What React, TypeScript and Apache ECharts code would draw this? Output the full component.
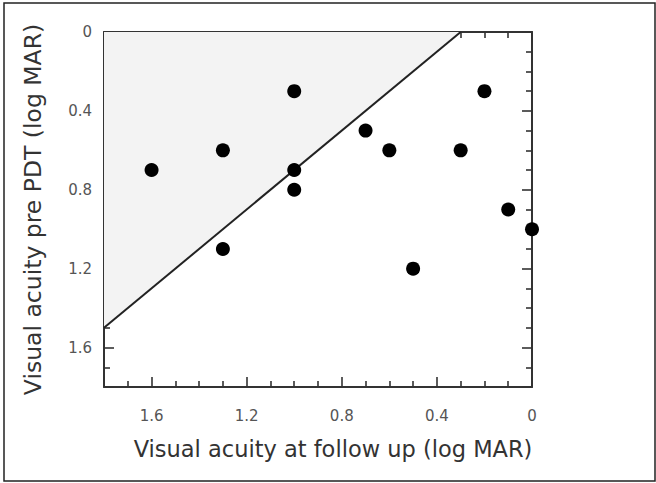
import React, { useEffect, useRef } from "react";
import * as echarts from "echarts";

// Data
const followUp = [1.6, 1.3, 1.3, 1.0, 1.0, 1.0, 0.7, 0.6, 0.5, 0.3, 0.2, 0.1, 0.0];
const prePDT = [0.7, 0.6, 1.1, 0.3, 0.7, 0.8, 0.5, 0.6, 1.2, 0.6, 0.3, 0.9, 1.0];
const diagX = [1.8, 0.3];
const diagY = [1.5, 0];
const shadeX = [1.8, 0.3, 1.8];
const shadeY = [0, 0, 1.5];
const axisMin = 0;
const axisMax = 1.8;
const majorStep = 0.4;
const xTitle = "Visual acuity at follow up (log MAR)";
const yTitle = "Visual acuity pre PDT (log MAR)";

const FONT = "DejaVu Sans";

export default function App() {
  const ref = useRef<HTMLDivElement>(null);
  useEffect(() => {
    if (!ref.current) return;
    const chart = echarts.init(ref.current, null, { renderer: "svg" });

    const fmt = (v: number) => {
      const r = Math.round(v * 10) / 10;
      if (Math.abs(r / majorStep - Math.round(r / majorStep)) > 1e-6) return "";
      return r === 0 ? "0" : String(r);
    };

    const axisCommon = (show: boolean) => ({
      type: "value" as const,
      min: axisMin,
      max: axisMax,
      interval: majorStep,
      inverse: true,
      axisLine: { show: true, onZero: false, lineStyle: { color: "#333", width: 2 } },
      axisTick: { show: true, inside: true, length: 10, lineStyle: { color: "#333", width: 1.6 } },
      minorTick: { show: true, splitNumber: 4, length: 6, lineStyle: { color: "#333", width: 1.6 } },
      splitLine: { show: false },
      axisLabel: {
        show,
        showMaxLabel: false,
        formatter: fmt,
        fontFamily: FONT,
        fontSize: 15,
        color: "#555",
      },
    });

    const shadeData = shadeX.map((x, i) => [x, shadeY[i]]);
    const diagData = diagX.map((x, i) => [x, diagY[i]]);
    const pts = followUp.map((x, i) => [x, prePDT[i]]);

    chart.setOption({
      animation: false,
      backgroundColor: "#fff",
      grid: { left: 104, top: 32, right: 124, bottom: 96, containLabel: false },
      xAxis: [
        {
          ...axisCommon(true),
          position: "bottom",
          axisLabel: { ...axisCommon(true).axisLabel, margin: 21 },
          name: xTitle,
          nameLocation: "middle",
          nameGap: 50,
          nameTextStyle: { fontFamily: FONT, fontSize: 22.5, color: "#333", padding: [0, 0, 0, 30] },
        },
        { ...axisCommon(false), position: "top" },
      ],
      yAxis: [
        {
          ...axisCommon(true),
          position: "left",
          axisLabel: { ...axisCommon(true).axisLabel, margin: 12 },
          name: yTitle,
          nameLocation: "middle",
          nameGap: 59,
          nameTextStyle: { fontFamily: FONT, fontSize: 23.5, color: "#333", padding: [0, 0, 0, 0] },
        },
        { ...axisCommon(false), position: "right" },
      ],
      graphic: [
        {
          type: "rect",
          shape: { x: 4, y: 3, width: 651, height: 478 },
          style: { fill: "none", stroke: "#222", lineWidth: 1.5 },
          z: 100,
        },
      ],
      series: [
        {
          type: "custom",
          xAxisIndex: 0,
          yAxisIndex: 0,
          data: [0],
          z: 1,
          silent: true,
          renderItem: (_params: any, api: any) => ({
            type: "polygon",
            shape: { points: shadeData.map((p) => api.coord(p)) },
            style: { fill: "#f3f3f3", stroke: "none" },
          }),
        },
        {
          type: "line",
          data: diagData,
          symbol: "none",
          z: 2,
          lineStyle: { color: "#222", width: 2 },
          silent: true,
        },
        {
          type: "scatter",
          data: pts,
          symbol: "circle",
          symbolSize: 14,
          z: 3,
          itemStyle: { color: "#000", opacity: 1 },
        },
      ],
    });
    return () => chart.dispose();
  }, []);
  return (
    <div
      ref={ref}
      style={{ position: "absolute", left: 0, top: 0, width: 656, height: 483, background: "#fff" }}
    />
  );
}
